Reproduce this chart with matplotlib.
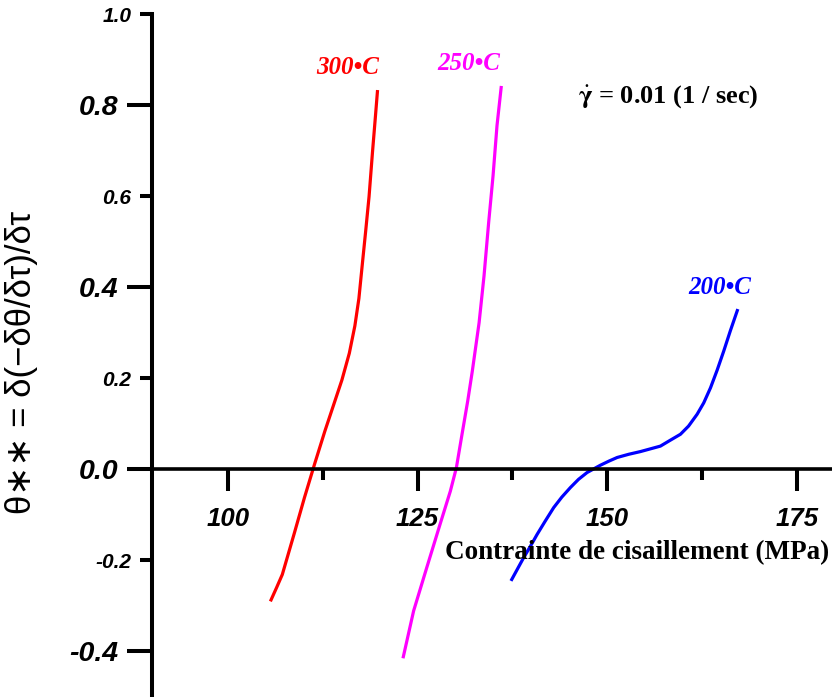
import matplotlib
matplotlib.use("Agg")
import matplotlib.pyplot as plt
from matplotlib.ticker import FixedLocator, FixedFormatter

# ---------------- data ----------------
x_300 = [105.6, 106.41, 107.17, 108.74, 110.09, 111.43, 112.78, 113.9, 115.02,
         116.0, 116.73, 117.26, 117.71, 118.16, 118.6, 119.05, 119.42, 119.72]
y_300 = [-0.290, -0.260, -0.231, -0.141, -0.062, 0.012, 0.084, 0.140, 0.196,
         0.255, 0.315, 0.375, 0.450, 0.524, 0.599, 0.696, 0.771, 0.833]

x_250 = [123.07, 124.47, 126.2, 127.95, 129.31, 130.1, 130.85, 131.6, 132.2,
         133.1, 133.75, 134.36, 134.94, 135.46, 136.03]
y_250 = [-0.415, -0.311, -0.216, -0.121, -0.048, 0.003, 0.077, 0.150, 0.215,
         0.322, 0.425, 0.542, 0.645, 0.755, 0.842]

x_200 = [137.3, 138.97, 139.86, 140.74, 141.8, 142.93, 144.0, 145.13, 146.2,
         147.33, 149.08, 150.2, 151.29, 152.8, 154.36, 156.99, 158.3, 159.63,
         160.7, 161.83, 162.7, 163.59, 164.47, 165.34, 166.2, 167.19]
y_200 = [-0.245, -0.194, -0.169, -0.143, -0.114, -0.084, -0.061, -0.040, -0.022,
         -0.007, 0.009, 0.018, 0.026, 0.033, 0.039, 0.051, 0.064, 0.077,
         0.095, 0.121, 0.146, 0.179, 0.218, 0.260, 0.304, 0.352]

series_labels = ["300\u2022C", "250\u2022C", "200\u2022C"]
series_colors = ["#FF0000", "#FF00FF", "#0000FF"]

x_major = [100, 125, 150, 175]
x_minor = [112.5, 137.5, 162.5]
y_major = [-0.4, 0.0, 0.4, 0.8]
y_minor = [-0.2, 0.2, 0.6, 1.0]

xlabel = "Contrainte de cisaillement (MPa)"
ylabel = "\u03b8\u2217\u2217 = \u03b4(\u2212\u03b4\u03b8/\u03b4\u03c4)/\u03b4\u03c4"
rate_text = r"$\dot{\mathbf{\gamma}}$ = 0.01 (1 / sec)"

# ---------------- figure ----------------
plt.rcParams["mathtext.fontset"] = "stix"
W, H = 832, 697
fig = plt.figure(figsize=(W / 100, H / 100), dpi=100)
ax = fig.add_axes([152 / W, 0.0, 1 - 152 / W, 1 - 14 / H])

for xs, ys, c in zip([x_300, x_250, x_200], [y_300, y_250, y_200], series_colors):
    ax.plot(xs, ys, color=c, lw=2.3, solid_capstyle="butt", solid_joinstyle="round")

ax.set_xlim(90, 179.6)
ax.set_ylim(-0.5, 1.0)

ax.spines["top"].set_visible(False)
ax.spines["right"].set_visible(False)
ax.spines["left"].set_linewidth(2.9)
ax.spines["bottom"].set_linewidth(2.6)
ax.spines["bottom"].set_position(("data", 0.0))

ax.xaxis.set_major_locator(FixedLocator(x_major))
ax.xaxis.set_minor_locator(FixedLocator(x_minor))
ax.yaxis.set_major_locator(FixedLocator(y_major))
ax.yaxis.set_minor_locator(FixedLocator(y_minor))

ax.xaxis.set_major_formatter(FixedFormatter([str(v) for v in x_major]))
ax.yaxis.set_major_formatter(FixedFormatter([f"{v:.1f}" for v in y_major]))
ax.yaxis.set_minor_formatter(FixedFormatter([f"{v:.1f}" for v in y_minor]))

ax.tick_params(axis="x", which="major", direction="out", length=16, width=2.9, pad=11)
ax.tick_params(axis="x", which="minor", direction="out", length=8, width=2.9)
ax.tick_params(axis="y", which="major", direction="out", length=18, width=2.9, pad=6)
ax.tick_params(axis="y", which="minor", direction="out", length=9, width=2.9, pad=6)

tick_font = dict(family=["Liberation Sans", "DejaVu Sans"], weight="bold", style="italic")
for lab in ax.get_xticklabels():
    lab.set(fontsize=18.5, **tick_font)
for lab in ax.get_yticklabels():
    lab.set(fontsize=20.5, **tick_font)
for lab in ax.yaxis.get_minorticklabels():
    lab.set(fontsize=15, **tick_font)

# axis titles
ax.text((637 - 152) / (W - 152), (H - 553) / (H - 14), xlabel, transform=ax.transAxes,
        ha="center", va="center", fontsize=19.5, fontweight="bold",
        family=["Liberation Serif", "DejaVu Serif"])
fig.text(22 / W, 1 - 362 / H, ylabel, rotation=90, ha="center", va="center",
         fontsize=25, family=["Liberation Sans", "DejaVu Sans"])

# curve labels
label_pos = [(348, 68), (469, 63), (720, 287)]
for txt, c, (px, py) in zip(series_labels, series_colors, label_pos):
    fig.text(px / W, 1 - py / H, txt, color=c, ha="center", va="center",
             fontsize=18, fontweight="bold", style="italic",
             family=["Liberation Serif", "DejaVu Serif"])

# strain-rate annotation
fig.text(668 / W, 1 - 97 / H, rate_text, ha="center", va="center",
         fontsize=19, fontweight="bold",
         family=["Liberation Serif", "DejaVu Serif"])

fig.savefig("out.png", dpi=100)
